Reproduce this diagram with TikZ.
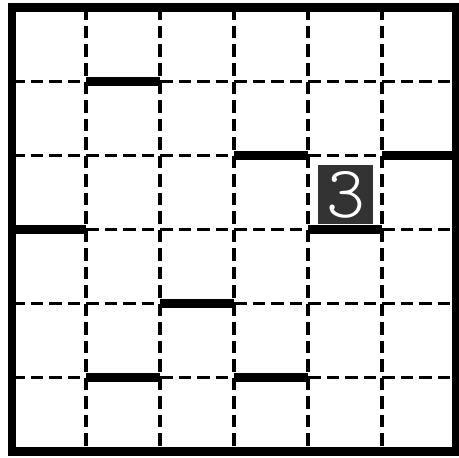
\documentclass[tikz,border=0pt]{standalone}
\usepackage{tikz}
\usepackage{xcolor}
\definecolor{cluegray}{RGB}{51, 51, 51}

\begin{document}
\begin{tikzpicture}[
    x=74pt, y=-74pt,
    gridline/.style={line width=3.4pt, black, dash pattern=on 12.5pt off 6pt},
    border/.style={line width=8.5pt, black},
    wall/.style={line width=8.5pt, black},
    clue/.style={rectangle, fill=cluegray, minimum width=55pt, minimum height=59pt,
                 inner sep=0pt, text=white, font=\fontsize{74}{74}\ttfamily\fontseries{l}\selectfont}
]
\useasboundingbox (-0.1622, -0.1014) rectangle (6.0405, 6.0743);

% dashed cell lines
\draw[gridline] (1,0) -- (1,6);
\draw[gridline] (2,0) -- (2,6);
\draw[gridline] (3,0) -- (3,6);
\draw[gridline] (4,0) -- (4,6);
\draw[gridline] (5,0) -- (5,6);
\draw[gridline] (0,1) -- (6,1);
\draw[gridline] (0,2) -- (6,2);
\draw[gridline] (0,3) -- (6,3);
\draw[gridline] (0,4) -- (6,4);
\draw[gridline] (0,5) -- (6,5);

% walls
\draw[wall] (1,1) -- (2,1);
\draw[wall] (3,2) -- (4,2);
\draw[wall] (5,2) -- (6,2);
\draw[wall] (0,3) -- (1,3);
\draw[wall] (4,3) -- (5,3);
\draw[wall] (2,4) -- (3,4);
\draw[wall] (1,5) -- (2,5);
\draw[wall] (3,5) -- (4,5);

% outer frame
\draw[border] (0,0) rectangle (6,6);

% clue
\node[clue] (clue3) at (4.51, 2.53) {3};

\end{tikzpicture}
\end{document}
